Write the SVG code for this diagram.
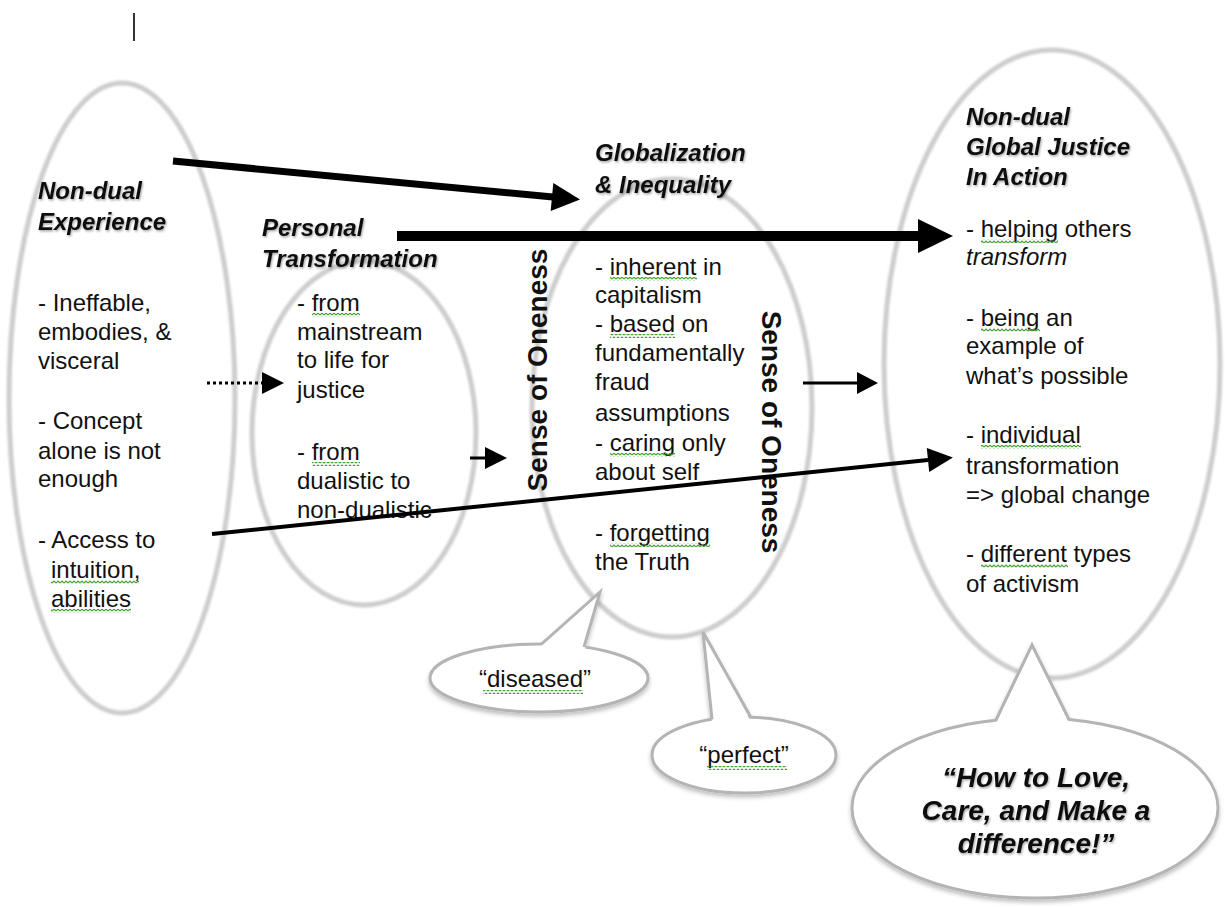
<svg xmlns="http://www.w3.org/2000/svg" width="1225" height="907" viewBox="0 0 1225 907">
<defs>
<style>
text{font-family:"Liberation Sans",Arial,sans-serif;fill:#111;}
.h{font-size:24px;font-weight:bold;font-style:italic;}
.b{font-size:24px;}
.v{font-size:28px;font-weight:bold;}
.q{font-size:28px;font-weight:bold;font-style:italic;}
.ring{fill:none;stroke:#cdcdcd;stroke-width:5;}
.bub{fill:#fff;stroke:#b4b4b4;stroke-width:3;}
.tailfill{fill:#fff;stroke:none;}
.tail{fill:none;stroke:#b4b4b4;stroke-width:3;stroke-linejoin:miter;}
.ln{stroke:#000;fill:none;}
.hd{fill:#000;}
.wv{fill:url(#wavy);}
</style>
<filter id="soft" x="-5%" y="-5%" width="110%" height="110%"><feGaussianBlur stdDeviation="1"/></filter>
<filter id="shd" x="-10%" y="-20%" width="120%" height="150%"><feDropShadow dx="0" dy="3" stdDeviation="2" flood-color="#000" flood-opacity="0.25"/></filter>
<filter id="tsh" x="-5%" y="-20%" width="110%" height="150%"><feDropShadow dx="1" dy="1.5" stdDeviation="1" flood-color="#000" flood-opacity="0.35"/></filter>
<pattern id="wavy" width="4" height="4" patternUnits="userSpaceOnUse"><path d="M0,3 L2,1 L4,3" fill="none" stroke="#45a035" stroke-width="1.2"/></pattern>
</defs>
<rect width="1225" height="907" fill="#fff"/>
<line x1="134" y1="13" x2="134" y2="41" stroke="#333" stroke-width="2"/>

<g id="node-nondual-experience">
<ellipse class="ring" cx="122" cy="398" rx="113" ry="315" filter="url(#soft)"/>
<g filter="url(#tsh)"><text class="h" x="38" y="199">Non-dual</text><text class="h" x="38" y="230">Experience</text></g>
<text class="b" x="38" y="311">- Ineffable,</text>
<text class="b" x="38" y="340">embodies, &amp;</text>
<text class="b" x="38" y="369">visceral</text>
<text class="b" x="38" y="429">- Concept</text>
<text class="b" x="38" y="459">alone is not</text>
<text class="b" x="38" y="487">enough</text>
<text class="b" x="38" y="548">- Access to</text>
<text class="b" x="51" y="578">intuition,</text>
<text class="b" x="51" y="607">abilities</text>
<rect class="wv" x="51" y="580" width="88" height="4"/>
<rect class="wv" x="51" y="609" width="80" height="4"/>
</g>

<g id="node-personal-transformation">
<ellipse class="ring" cx="364" cy="433" rx="112" ry="172" filter="url(#soft)"/>
<g filter="url(#tsh)"><text class="h" x="262" y="236">Personal</text><text class="h" x="262" y="267">Transformation</text></g>
<text class="b" x="297" y="311">- from</text>
<text class="b" x="297" y="340">mainstream</text>
<text class="b" x="297" y="368">to life for</text>
<text class="b" x="297" y="398">justice</text>
<text class="b" x="297" y="460">- from</text>
<text class="b" x="297" y="489">dualistic to</text>
<text class="b" x="297" y="518">non-dualistic</text>
<rect class="wv" x="312" y="313" width="48" height="4"/>
<rect class="wv" x="312" y="462" width="48" height="4"/>
</g>

<g id="node-globalization">
<ellipse class="ring" cx="672" cy="408" rx="140" ry="229" filter="url(#soft)"/>
<g filter="url(#tsh)"><text class="h" x="595" y="161">Globalization</text><text class="h" x="595" y="193">&amp; Inequality</text></g>
<text class="b" x="595" y="275">- inherent in</text>
<text class="b" x="595" y="303">capitalism</text>
<text class="b" x="595" y="332">- based on</text>
<text class="b" x="595" y="361">fundamentally</text>
<text class="b" x="595" y="390">fraud</text>
<text class="b" x="595" y="421">assumptions</text>
<text class="b" x="595" y="451">- caring only</text>
<text class="b" x="595" y="480">about self</text>
<text class="b" x="595" y="541">- forgetting</text>
<text class="b" x="595" y="570">the Truth</text>
<rect class="wv" x="610" y="277" width="87" height="4"/>
<rect class="wv" x="610" y="334" width="65" height="4"/>
<rect class="wv" x="610" y="453" width="65" height="4"/>
<rect class="wv" x="610" y="543" width="100" height="4"/>
<text class="v" text-anchor="middle" transform="translate(547,370) rotate(-90)">Sense of Oneness</text>
<text class="v" text-anchor="middle" transform="translate(762,432) rotate(90)">Sense of Oneness</text>
</g>

<g id="node-global-justice">
<ellipse class="ring" cx="1052" cy="364" rx="168" ry="314" filter="url(#soft)"/>
<g filter="url(#tsh)"><text class="h" x="966" y="125">Non-dual</text><text class="h" x="966" y="155">Global Justice</text><text class="h" x="966" y="185">In Action</text></g>
<text class="b" x="966" y="237">- helping others</text>
<text class="b" x="966" y="265" font-style="italic">transform</text>
<text class="b" x="966" y="326">- being an</text>
<text class="b" x="966" y="354">example of</text>
<text class="b" x="966" y="384">what’s possible</text>
<text class="b" x="966" y="443">- individual</text>
<text class="b" x="966" y="474">transformation</text>
<text class="b" x="966" y="503">=&gt; global change</text>
<text class="b" x="966" y="562">- different types</text>
<text class="b" x="966" y="592">of activism</text>
<rect class="wv" x="981" y="239" width="77" height="4"/>
<rect class="wv" x="981" y="328" width="59" height="4"/>
<rect class="wv" x="981" y="445" width="100" height="4"/>
<rect class="wv" x="981" y="564" width="87" height="4"/>
</g>

<g id="bubble-diseased">
<g filter="url(#shd)">
<ellipse class="bub" cx="539" cy="678" rx="109" ry="34"/>
<polygon class="tailfill" points="541,646 600,592 585,649"/>
<polyline class="tail" points="541,644.5 600,592 584,647"/>
</g>
<text class="b" x="535" y="687" text-anchor="middle">“diseased”</text>
<rect class="wv" x="483" y="690" width="100" height="4"/>
</g>

<g id="bubble-perfect">
<g filter="url(#shd)">
<ellipse class="bub" cx="744" cy="755" rx="92" ry="38"/>
<polygon class="tailfill" points="712,722 703,632 751,722"/>
<polyline class="tail" points="712,719.5 703,632 751,717.5"/>
</g>
<text class="b" x="744" y="763" text-anchor="middle">“perfect”</text>
<rect class="wv" x="707" y="766" width="80" height="4"/>
</g>

<g id="bubble-howto">
<g filter="url(#shd)">
<ellipse class="bub" cx="1035" cy="808" rx="183" ry="90"/>
<polygon class="tailfill" points="996,723 1032,645 1069,723"/>
<polyline class="tail" points="996,720 1032,645 1069,719.5"/>
</g>
<g filter="url(#tsh)">
<text class="q" x="1036" y="787" text-anchor="middle">“How to Love,</text>
<text class="q" x="1036" y="820" text-anchor="middle">Care, and Make a</text>
<text class="q" x="1036" y="853" text-anchor="middle">difference!”</text>
</g>
</g>

<g id="connectors">
<line class="ln" x1="173" y1="161" x2="553" y2="197" stroke-width="7"/>
<polygon class="hd" points="553.3,183.1 580,199.6 550.7,210.9"/>
<line class="ln" x1="397" y1="236" x2="920" y2="236" stroke-width="10"/>
<polygon class="hd" points="918,219 953,236 918,253"/>
<line class="ln" x1="207" y1="383" x2="263" y2="383" stroke-width="3" stroke-dasharray="3,3"/>
<polygon class="hd" points="262,372 284,383 262,394"/>
<line class="ln" x1="470" y1="458" x2="487" y2="458" stroke-width="3"/>
<polygon class="hd" points="485,447 507,458 485,469"/>
<line class="ln" x1="803" y1="383" x2="859" y2="383" stroke-width="3"/>
<polygon class="hd" points="857,372 878,383 857,394"/>
<line class="ln" x1="212" y1="534" x2="928" y2="460" stroke-width="4"/>
<polygon class="hd" points="926.8,448.1 952.9,457.4 929.2,471.9"/>
</g>
</svg>
